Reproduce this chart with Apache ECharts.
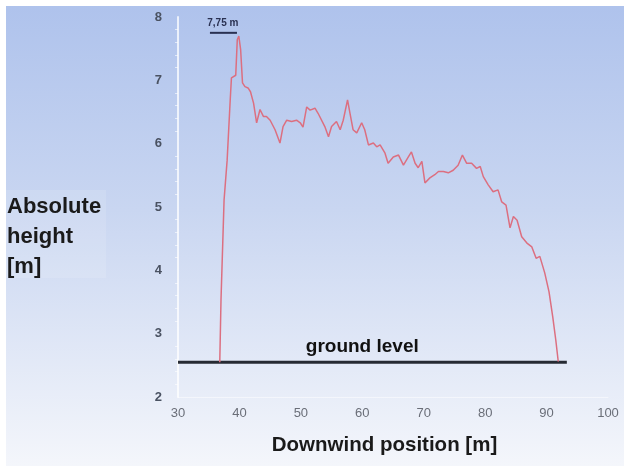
<!DOCTYPE html>
<html>
<head>
<meta charset="utf-8">
<script src="https://cdn.jsdelivr.net/npm/echarts@6/dist/echarts.min.js"></script>
<style>html,body{margin:0;padding:0;background:#fff}#c{width:624px;height:466px}</style>
</head>
<body>
<div id="c"></div>
<script>
// Downwind position [m]
const posX = [36.8, 37.0, 37.5, 38.0, 38.5, 38.7, 39.0, 39.4, 39.65, 39.9, 40.2, 40.5, 40.9, 41.4, 41.8, 42.3, 42.8, 43.35, 43.9, 44.4, 45.0, 45.8, 46.6, 47.1, 47.7, 48.5, 49.3, 49.9, 50.35, 50.95, 51.5, 52.3, 52.8, 53.1, 53.9, 54.5, 55.0, 55.8, 56.4, 56.9, 57.6, 58.0, 58.5, 59.1, 59.9, 60.4, 61.0, 61.8, 62.35, 62.9, 63.7, 64.2, 65.05, 65.9, 66.7, 67.5, 68.0, 68.6, 69.1, 69.7, 70.2, 71.0, 71.8, 72.4, 73.2, 74.0, 74.8, 75.6, 76.3, 77.0, 77.8, 78.6, 79.2, 79.7, 80.5, 81.3, 82.1, 82.7, 83.4, 84.05, 84.6, 85.2, 85.95, 86.8, 87.6, 88.3, 88.9, 89.7, 90.4, 91.0, 91.5, 91.9];
// Absolute height [m]
const heightY = [2.55, 3.53, 5.11, 5.74, 6.69, 7.04, 7.06, 7.08, 7.64, 7.7, 7.48, 6.96, 6.90, 6.88, 6.82, 6.64, 6.33, 6.54, 6.43, 6.43, 6.37, 6.22, 6.01, 6.27, 6.37, 6.35, 6.37, 6.33, 6.26, 6.58, 6.53, 6.56, 6.48, 6.48, 6.27, 6.11, 6.27, 6.35, 6.22, 6.37, 6.69, 6.48, 6.22, 6.17, 6.33, 6.22, 5.98, 6.01, 5.95, 5.98, 5.85, 5.69, 5.79, 5.82, 5.66, 5.79, 5.87, 5.69, 5.62, 5.72, 5.38, 5.46, 5.51, 5.56, 5.56, 5.54, 5.58, 5.66, 5.82, 5.69, 5.69, 5.61, 5.64, 5.48, 5.35, 5.24, 5.27, 5.08, 5.03, 4.67, 4.85, 4.79, 4.53, 4.43, 4.37, 4.19, 4.22, 3.96, 3.66, 3.27, 2.90, 2.56];
// Ground level line
const groundX = [30, 93.3];
const groundLevel = 2.55;
const groundLabel = 'ground level';
const groundLabelPos = [60, 2.8];
// Peak annotation
const peakLabel = '7,75 m';
const peakLabelPos = [37.3, 7.9];
const peakMarkX = [35.2, 39.6];
const peakValue = 7.75;
// Axis
const xTicks = [30, 40, 50, 60, 70, 80, 90, 100];
const yTicks = [2, 3, 4, 5, 6, 7, 8];
const xTitle = 'Downwind position [m]';
const yTitle = 'Absolute\nheight\n[m]';

const chart = echarts.init(document.getElementById('c'), null, {renderer: 'canvas'});
const font = '"Liberation Sans", Arial, sans-serif';
chart.setOption({
  animation: false,
  backgroundColor: {
    type: 'linear', x: 0, y: 0, x2: 0, y2: 1,
    colorStops: [
      {offset: 0, color: '#aec2ec'},
      {offset: 0.45, color: '#c9d6f1'},
      {offset: 1, color: '#f4f6fb'}
    ]
  },
  graphic: [
    {type: 'rect', shape: {x: 0, y: 0, width: 624, height: 6}, style: {fill: '#ffffff'}, z: 100},
    {type: 'rect', shape: {x: 0, y: 0, width: 6, height: 466}, style: {fill: '#ffffff'}, z: 100},
    {type: 'rect', shape: {x: 6, y: 190, width: 100, height: 88}, style: {fill: 'rgba(255,255,255,0.12)'}, z: 1},
    {type: 'text', left: 7, top: 192, z: 10,
     style: {text: yTitle, font: 'bold 22px ' + font, fill: '#1a1a1a', lineHeight: 30}}
  ],
  grid: {left: 178, right: 16, top: 17, bottom: 69, containLabel: false},
  xAxis: {
    type: 'value', min: xTicks[0], max: xTicks[xTicks.length - 1], interval: 10,
    name: xTitle, nameLocation: 'middle', nameGap: 38,
    nameTextStyle: {fontFamily: font, fontWeight: 'bold', fontSize: 20.5, color: '#1a1a1a', padding: [0, 17, 0, 0]},
    axisLine: {show: true, lineStyle: {color: 'rgba(255,255,255,0.5)', width: 1}},
    axisTick: {show: false},
    splitLine: {show: false},
    axisLabel: {color: '#6a6e78', fontFamily: font, fontSize: 13, margin: 10}
  },
  yAxis: {
    type: 'value', min: yTicks[0], max: yTicks[yTicks.length - 1], interval: 1,
    axisLine: {show: true, lineStyle: {color: 'rgba(255,255,255,0.75)', width: 2}},
    axisTick: {show: false},
    minorTick: {show: true, splitNumber: 5, length: 3, lineStyle: {color: 'rgba(255,255,255,0.6)'}},
    splitLine: {show: false},
    axisLabel: {color: '#4a5262', fontFamily: font, fontSize: 13, fontWeight: 'bold', margin: 16}
  },
  series: [
    {
      type: 'line', name: 'ground', data: groundX.map(x => [x, groundLevel]),
      symbol: 'none', lineStyle: {color: '#262a33', width: 3}, z: 3
    },
    {
      type: 'line', name: 'height', data: posX.map((x, i) => [x, heightY[i]]),
      symbol: 'none', lineStyle: {color: '#dc6f80', width: 1.5}, z: 4
    },
    {
      type: 'line', name: 'peakmark', data: peakMarkX.map(x => [x, peakValue]),
      symbol: 'none', lineStyle: {color: '#2a3152', width: 2}, z: 4
    },
    {
      type: 'scatter', name: 'labels', symbolSize: 0,
      itemStyle: {opacity: 1, color: 'transparent'},
      data: [
        {value: groundLabelPos, label: {formatter: groundLabel, fontSize: 19, fontWeight: 'bold', color: '#111111'}},
        {value: peakLabelPos, label: {formatter: peakLabel, fontSize: 10, fontWeight: 'bold', color: '#2a3152'}}
      ],
      label: {show: true, position: 'inside', fontFamily: font, color: '#111111', opacity: 1, textBorderWidth: 0},
      z: 5
    }
  ]
});
</script>
</body>
</html>
